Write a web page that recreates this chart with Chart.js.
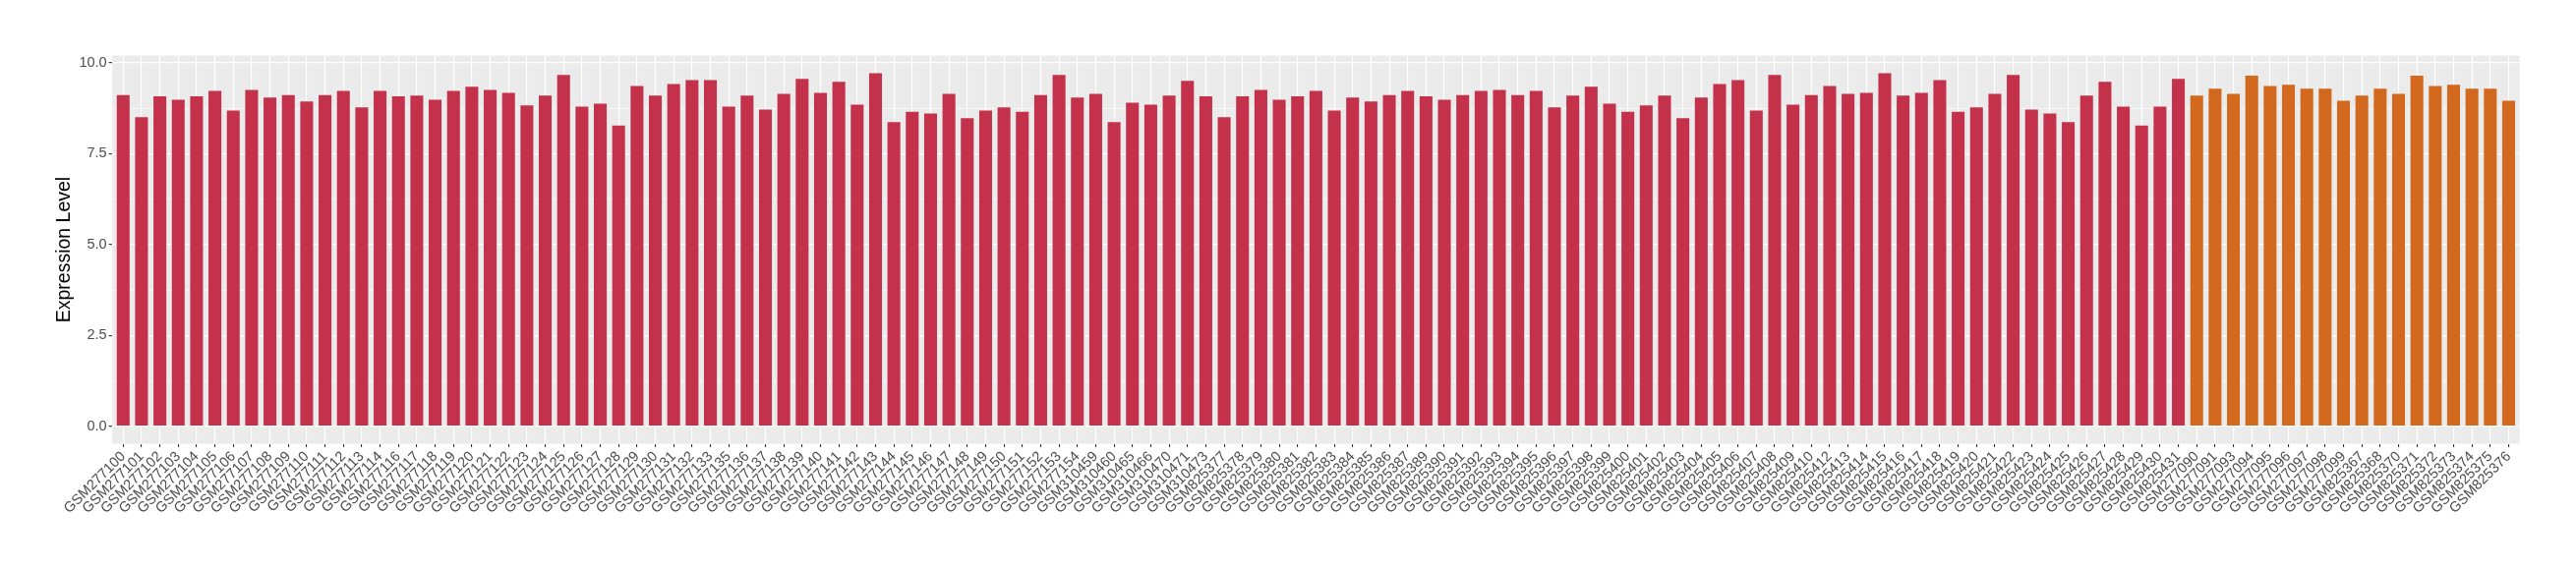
<!DOCTYPE html>
<html>
<head>
<meta charset="utf-8">
<script src="https://cdn.jsdelivr.net/npm/chart.js@4"></script>
<style>
  html, body { margin: 0; padding: 0; background: #ffffff; }
  #wrap { width: 2620px; height: 580px; }
</style>
</head>
<body>
<div id="wrap"><canvas id="c" width="2620" height="580"></canvas></div>
<script>
// ---- Data ----
const samplesA = [
  "GSM277100","GSM277101","GSM277102","GSM277103","GSM277104","GSM277105","GSM277106","GSM277107","GSM277108","GSM277109",
  "GSM277110","GSM277111","GSM277112","GSM277113","GSM277114","GSM277116","GSM277117","GSM277118","GSM277119","GSM277120",
  "GSM277121","GSM277122","GSM277123","GSM277124","GSM277125","GSM277126","GSM277127","GSM277128","GSM277129","GSM277130",
  "GSM277131","GSM277132","GSM277133","GSM277135","GSM277136","GSM277137","GSM277138","GSM277139","GSM277140","GSM277141",
  "GSM277142","GSM277143","GSM277144","GSM277145","GSM277146","GSM277147","GSM277148","GSM277149","GSM277150","GSM277151",
  "GSM277152","GSM277153","GSM277154","GSM310459","GSM310460","GSM310465","GSM310466","GSM310470","GSM310471","GSM310473",
  "GSM825377","GSM825378","GSM825379","GSM825380","GSM825381","GSM825382","GSM825383","GSM825384","GSM825385","GSM825386",
  "GSM825387","GSM825389","GSM825390","GSM825391","GSM825392","GSM825393","GSM825394","GSM825395","GSM825396","GSM825397",
  "GSM825398","GSM825399","GSM825400","GSM825401","GSM825402","GSM825403","GSM825404","GSM825405","GSM825406","GSM825407",
  "GSM825408","GSM825409","GSM825410","GSM825412","GSM825413","GSM825414","GSM825415","GSM825416","GSM825417","GSM825418",
  "GSM825419","GSM825420","GSM825421","GSM825422","GSM825423","GSM825424","GSM825425","GSM825426","GSM825427","GSM825428",
  "GSM825429","GSM825430","GSM825431"
];
const valuesA = [
  9.12, 8.51, 9.08, 8.99, 9.08, 9.23, 8.69, 9.26, 9.05, 9.12,
  8.94, 9.12, 9.23, 8.78, 9.23, 9.08, 9.10, 8.99, 9.23, 9.35,
  9.26, 9.18, 8.83, 9.10, 9.67, 8.80, 8.88, 8.28, 9.37, 9.10,
  9.42, 9.53, 9.53, 8.80, 9.10, 8.72, 9.15, 9.56, 9.18, 9.48,
  8.85, 9.72, 8.37, 8.66, 8.61, 9.15, 8.48, 8.69, 8.78, 8.66,
  9.12, 9.67, 9.05, 9.15, 8.37, 8.91, 8.85, 9.10, 9.51, 9.08,
  8.51, 9.08, 9.26, 8.99, 9.08, 9.23, 8.69, 9.05, 8.94, 9.12,
  9.23, 9.08, 8.99, 9.12, 9.23, 9.26, 9.12, 9.23, 8.78, 9.10,
  9.35, 8.88, 8.66, 8.83, 9.10, 8.48, 9.05, 9.42, 9.53, 8.69,
  9.67, 8.85, 9.12, 9.37, 9.15, 9.18, 9.72, 9.10, 9.18, 9.53,
  8.66, 8.78, 9.15, 9.67, 8.72, 8.61, 8.37, 9.10, 9.48, 8.80,
  8.28, 8.80, 9.56
];
const samplesB = [
  "GSM277090","GSM277091","GSM277093","GSM277094","GSM277095","GSM277096","GSM277097","GSM277098","GSM277099",
  "GSM825367","GSM825368","GSM825370","GSM825371","GSM825372","GSM825373","GSM825374","GSM825375","GSM825376"
];
const valuesB = [
  9.10, 9.29, 9.15, 9.65, 9.37, 9.40, 9.29, 9.29, 8.96,
  9.10, 9.29, 9.15, 9.65, 9.37, 9.40, 9.29, 9.29, 8.96
];
const yTickValues = [0, 1.25, 2.5, 3.75, 5, 6.25, 7.5, 8.75, 10];
const yTitle = "Expression Level";

// ---- Build chart ----
const allLabels = samplesA.concat(samplesB);
const dataA = valuesA.map((v, i) => ({ x: i, y: v }));
const dataB = valuesB.map((v, i) => ({ x: samplesA.length + i, y: v }));

const FONT = "'Liberation Sans', Arial, Helvetica, sans-serif";
const isMajor = v => Math.abs(v / 2.5 - Math.round(v / 2.5)) < 1e-6;

const panelBg = {
  id: 'panelBg',
  beforeDraw(chart) {
    const a = chart.chartArea, ctx = chart.ctx;
    ctx.save();
    ctx.fillStyle = '#EBEBEB';
    ctx.fillRect(a.left, a.top, a.right - a.left, a.bottom - a.top);
    ctx.restore();
  }
};

new Chart(document.getElementById('c'), {
  type: 'bar',
  data: {
    datasets: [
      { label: 'A', data: dataA, backgroundColor: '#C3324A', grouped: false,
        barPercentage: 0.7, categoryPercentage: 1.0, borderWidth: 0 },
      { label: 'B', data: dataB, backgroundColor: '#D2691E', grouped: false,
        barPercentage: 0.7, categoryPercentage: 1.0, borderWidth: 0 }
    ]
  },
  options: {
    responsive: false,
    animation: false,
    layout: { padding: { left: 0, right: 57.3, top: 56.5, bottom: 0 } },
    plugins: { legend: { display: false }, tooltip: { enabled: false } },
    scales: {
      x: {
        type: 'linear',
        min: -0.6,
        max: allLabels.length - 1 + 0.6,
        offset: false,
        bounds: 'data',
        border: { display: false },
        grid: { offset: false, color: '#FFFFFF', lineWidth: 1.1, drawTicks: true,
                tickLength: 3.5, tickColor: '#333333', tickWidth: 1.1 },
        afterBuildTicks(axis) { axis.ticks = allLabels.map((_, i) => ({ value: i })); },
        afterFit(axis) { axis.height = 128.4; },
        ticks: {
          autoSkip: false,
          minRotation: 45,
          maxRotation: 45,
          padding: 1,
          color: '#4D4D4D',
          font: { family: FONT, size: 14.5 },
          callback: (v) => allLabels[v] ?? ''
        }
      },
      y: {
        min: -0.486,
        max: 10.206,
        border: { display: false },
        grid: {
          color: '#FFFFFF',
          lineWidth: (ctx) => (ctx.tick && isMajor(ctx.tick.value)) ? 1.3 : 0.6,
          drawTicks: true,
          tickLength: 3.5,
          tickWidth: 1.1,
          tickColor: (ctx) => (ctx.tick && isMajor(ctx.tick.value)) ? '#333333' : 'rgba(0,0,0,0)'
        },
        afterBuildTicks(axis) { axis.ticks = yTickValues.map(v => ({ value: v })); },
        afterFit(axis) { axis.width = 114.1; },
        ticks: {
          padding: 2,
          color: '#4D4D4D',
          font: { family: FONT, size: 14.5 },
          callback: (v) => isMajor(v) ? v.toFixed(1) : ''
        },
        title: {
          display: true,
          text: yTitle,
          color: '#000000',
          font: { family: FONT, size: 19.5 },
          padding: { top: 54.3, bottom: 0 }
        }
      }
    }
  },
  plugins: [panelBg]
});
</script>
</body>
</html>
